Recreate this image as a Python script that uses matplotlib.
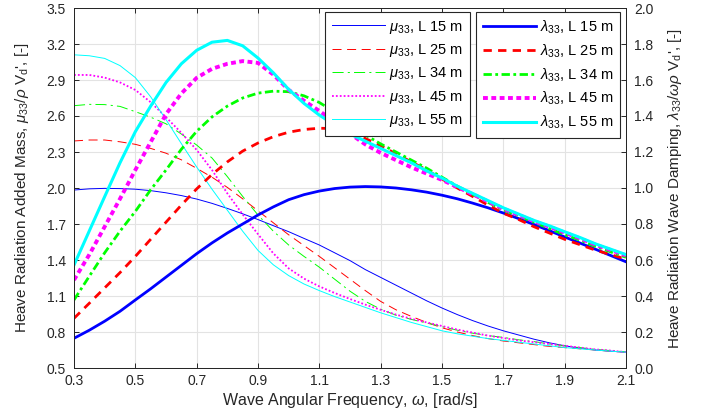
import matplotlib
matplotlib.use("Agg")
import matplotlib.pyplot as plt
import numpy as np

plt.rcParams['font.family'] = ['Liberation Sans', 'DejaVu Sans']
plt.rcParams['mathtext.fontset'] = 'custom'
plt.rcParams['mathtext.rm'] = 'Liberation Sans'
plt.rcParams['mathtext.it'] = 'Liberation Sans:italic'
plt.rcParams['lines.scale_dashes'] = False

# frekvencija (rad/s)
omega = [0.30, 0.35, 0.40, 0.45, 0.50, 0.55, 0.60, 0.65, 0.70, 0.75, 0.80, 0.85,
         0.90, 0.95, 1.00, 1.05, 1.10, 1.15, 1.20, 1.25, 1.30, 1.35, 1.40, 1.45,
         1.50, 1.55, 1.60, 1.65, 1.70, 1.75, 1.80, 1.85, 1.90, 1.95, 2.00, 2.05, 2.10]

# dodata masa mu33 / rho Vd (leva osa)
mu_15 = [1.983, 1.993, 1.997, 1.995, 1.990, 1.978, 1.960, 1.937, 1.908, 1.872, 1.830, 1.785,
         1.737, 1.686, 1.636, 1.580, 1.525, 1.460, 1.395, 1.320, 1.255, 1.190, 1.125, 1.060,
         1.000, 0.945, 0.895, 0.850, 0.810, 0.775, 0.740, 0.710, 0.685, 0.665, 0.650, 0.640, 0.632]
mu_25 = [2.392, 2.400, 2.400, 2.385, 2.364, 2.330, 2.290, 2.235, 2.164, 2.090, 2.005, 1.910,
         1.810, 1.710, 1.610, 1.520, 1.430, 1.335, 1.240, 1.145, 1.055, 0.985, 0.930, 0.880,
         0.835, 0.800, 0.770, 0.745, 0.725, 0.710, 0.695, 0.680, 0.670, 0.660, 0.650, 0.640, 0.632]
mu_34 = [2.686, 2.697, 2.695, 2.680, 2.636, 2.590, 2.535, 2.450, 2.358, 2.250, 2.095, 1.930,
         1.775, 1.640, 1.525, 1.430, 1.340, 1.240, 1.140, 1.055, 0.990, 0.940, 0.905, 0.875,
         0.845, 0.815, 0.790, 0.770, 0.755, 0.735, 0.720, 0.700, 0.685, 0.670, 0.655, 0.645, 0.635]
mu_45 = [2.942, 2.942, 2.920, 2.880, 2.817, 2.715, 2.590, 2.460, 2.317, 2.150, 1.955, 1.780,
         1.615, 1.455, 1.330, 1.245, 1.180, 1.125, 1.075, 1.028, 0.985, 0.945, 0.910, 0.880,
         0.850, 0.820, 0.795, 0.770, 0.750, 0.730, 0.715, 0.700, 0.685, 0.670, 0.655, 0.645, 0.632]
mu_55 = [3.110, 3.102, 3.080, 3.020, 2.920, 2.760, 2.570, 2.370, 2.175, 1.990, 1.815, 1.640,
         1.480, 1.360, 1.270, 1.200, 1.145, 1.095, 1.050, 1.005, 0.960, 0.920, 0.880, 0.845,
         0.810, 0.785, 0.765, 0.745, 0.730, 0.715, 0.700, 0.685, 0.670, 0.660, 0.650, 0.640, 0.632]

# prigusenje lambda33 / omega rho Vd (desna osa)
lam_15 = [0.165, 0.210, 0.260, 0.315, 0.378, 0.440, 0.505, 0.570, 0.635, 0.695, 0.750, 0.800,
          0.850, 0.895, 0.935, 0.963, 0.983, 0.997, 1.005, 1.008, 1.006, 1.000, 0.990, 0.977,
          0.960, 0.940, 0.916, 0.890, 0.861, 0.830, 0.797, 0.763, 0.728, 0.694, 0.660, 0.625, 0.590]
lam_25 = [0.276, 0.360, 0.445, 0.530, 0.620, 0.715, 0.810, 0.905, 0.995, 1.075, 1.145, 1.205,
          1.250, 1.285, 1.310, 1.325, 1.332, 1.330, 1.310, 1.275, 1.235, 1.190, 1.145, 1.100,
          1.050, 1.000, 0.953, 0.905, 0.860, 0.825, 0.785, 0.750, 0.715, 0.685, 0.655, 0.630, 0.605]
lam_34 = [0.378, 0.510, 0.640, 0.760, 0.870, 0.990, 1.100, 1.215, 1.315, 1.395, 1.455, 1.500,
          1.527, 1.538, 1.535, 1.512, 1.475, 1.422, 1.355, 1.295, 1.245, 1.200, 1.155, 1.110,
          1.060, 1.010, 0.965, 0.920, 0.878, 0.845, 0.810, 0.775, 0.740, 0.710, 0.675, 0.645, 0.615]
lam_45 = [0.489, 0.630, 0.785, 0.940, 1.100, 1.255, 1.410, 1.525, 1.612, 1.662, 1.690, 1.705,
          1.695, 1.630, 1.545, 1.485, 1.428, 1.368, 1.302, 1.242, 1.195, 1.155, 1.115, 1.080,
          1.045, 1.005, 0.965, 0.925, 0.885, 0.850, 0.815, 0.785, 0.752, 0.720, 0.685, 0.655, 0.625]
lam_55 = [0.572, 0.762, 0.952, 1.140, 1.313, 1.455, 1.586, 1.690, 1.765, 1.810, 1.820, 1.790,
          1.722, 1.640, 1.548, 1.470, 1.405, 1.350, 1.300, 1.260, 1.220, 1.180, 1.140, 1.095,
          1.055, 1.010, 0.970, 0.930, 0.890, 0.855, 0.820, 0.790, 0.757, 0.725, 0.690, 0.660, 0.630]

duzine = ['15', '25', '34', '45', '55']

plava, crvena, zelena, ljub, cijan = '#0000ff', '#ff0000', '#00ff00', '#ff00ff', '#00ffff'

fig = plt.figure(figsize=(7.09, 4.17), dpi=100)
ax = fig.add_axes([74/709, 1-368/417, 552/709, 360/417])
ax2 = ax.twinx()

tamna = '#262626'

# tanke linije - mu
m1, = ax.plot(omega, mu_15, color=plava, lw=0.7)
m2, = ax.plot(omega, mu_25, color=crvena, lw=0.7, ls=(0, (6.5, 4)))
m3, = ax.plot(omega, mu_34, color=zelena, lw=0.7, ls=(0, (8, 3, 1.5, 3)))
m4, = ax.plot(omega, mu_45, color=ljub, lw=1.3, ls=(0, (1.3, 1.5)))
m5, = ax.plot(omega, mu_55, color=cijan, lw=0.7)

# debele linije - lambda
l1, = ax2.plot(omega, lam_15, color=plava, lw=2.0)
l2, = ax2.plot(omega, lam_25, color=crvena, lw=2.0, ls=(0, (6, 4.5)))
l3, = ax2.plot(omega, lam_34, color=zelena, lw=2.0, ls=(0, (6, 2.5, 2, 2.5)))
l4, = ax2.plot(omega, lam_45, color=ljub, lw=2.8, ls=(0, (3.5, 2.5)))
l5, = ax2.plot(omega, lam_55, color=cijan, lw=2.2)

ax.set_xlim(0.3, 2.1)
ax.set_ylim(0.5, 3.5)
ax2.set_ylim(0.0, 2.0)
ax.set_xticks(np.arange(0.3, 2.11, 0.2))
ax.set_yticks(np.arange(0.5, 3.51, 0.3))
ax2.set_yticks(np.arange(0.0, 2.01, 0.2))
ax.xaxis.set_major_formatter(matplotlib.ticker.FormatStrFormatter('%.1f'))
ax.yaxis.set_major_formatter(matplotlib.ticker.FormatStrFormatter('%.1f'))
ax2.yaxis.set_major_formatter(matplotlib.ticker.FormatStrFormatter('%.1f'))

ax.grid(True, color='#e3e3e3', lw=0.8)
ax.set_axisbelow(True)

ax.tick_params(direction='in', top=True, right=False, length=3.6, width=0.7,
               labelsize=10, colors=tamna, pad=6)
ax.tick_params(axis='x', pad=4)
ax2.tick_params(direction='in', length=3.6, width=0.7, labelsize=10, colors=tamna, pad=6)
for a in (ax, ax2):
    for s in a.spines.values():
        s.set_color(tamna)
        s.set_linewidth(0.7)

ax.set_xlabel(r'Wave Angular Frequency, $\omega$, [rad/s]', fontsize=11.5, color=tamna)
ax.set_ylabel(r"Heave Radiation Added Mass, $\mu_{33}/\rho\ \mathrm{V_{d}}$', [-]",
              fontsize=11, color=tamna)
ax2.set_ylabel(r"Heave Radiation Wave Damping, $\lambda_{33}/\omega\rho\ \mathrm{V_{d}}$', [-]",
               fontsize=11, color=tamna)
ax.xaxis.label.set_va('center')
ax.yaxis.label.set_va('center')
ax2.yaxis.label.set_va('center')
ax.xaxis.set_label_coords(0.5, -0.089)
ax.yaxis.set_label_coords(-0.094, 0.5)
ax2.yaxis.set_label_coords(1.088, 0.5)

opts = dict(fontsize=10.5, handlelength=3.65, handletextpad=0.3, borderpad=0.45,
            labelspacing=0.44, fancybox=False, framealpha=1, edgecolor=tamna,
            loc='upper left', borderaxespad=0, bbox_transform=fig.transFigure)
leg1 = ax2.legend([m1, m2, m3, m4, m5], [r'$\mu_{33}$, L ' + d + ' m' for d in duzine],
                  bbox_to_anchor=(325/709, 1-12/417), **opts)
leg1.get_frame().set_linewidth(0.8)
ax2.add_artist(leg1)
leg2 = ax2.legend([l1, l2, l3, l4, l5], [r'$\lambda_{33}$, L ' + d + ' m' for d in duzine],
                  bbox_to_anchor=(476/709, 1-12/417), **opts)
leg2.get_frame().set_linewidth(0.8)

fig.savefig('out.png', dpi=100)
